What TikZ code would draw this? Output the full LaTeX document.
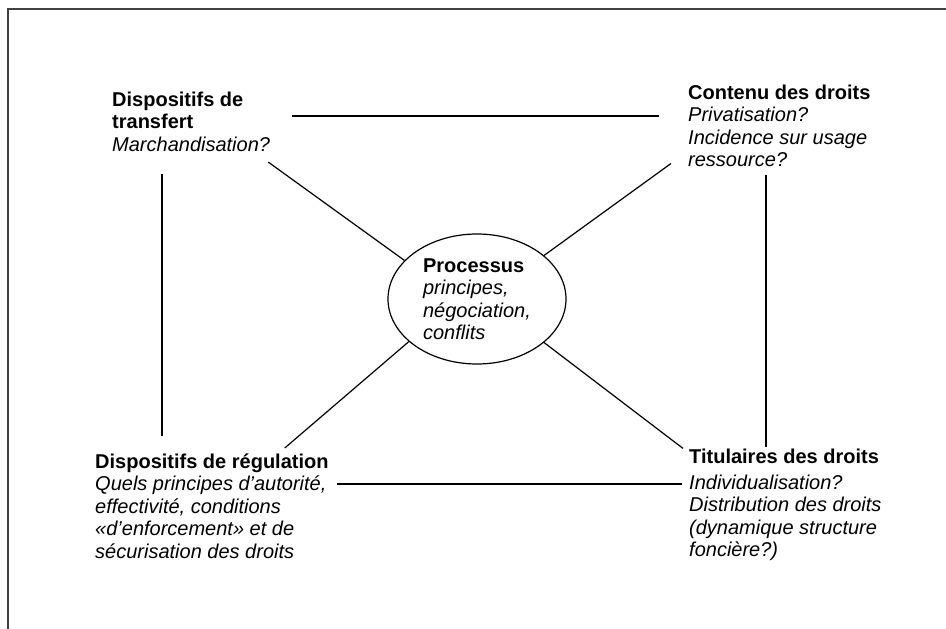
\documentclass[tikz,border=0pt]{standalone}
\usepackage{fontspec}
\setmainfont{Liberation Sans}
\usetikzlibrary{shapes.geometric}

\begin{document}
\begin{tikzpicture}[x=1pt,y=-1pt,
		bloc/.style={anchor=north west,inner sep=0pt,align=left,font=\fontsize{20}{22.5}\selectfont},
		lien/.style={line width=1.2pt},
		trait/.style={line width=1.6pt}]
				\useasboundingbox (0,0) rectangle (946,629);
				\draw[line width=1.3pt,black!75] (8,629) -- (8,9) -- (946,9);
				
				\node(trans) at (112,91.4)[bloc]{\textbf{Dispositifs de}\\\textbf{transfert}\\\textit{Marchandisation?}};
				\node(cont) at (688,84.4)[bloc]{\textbf{Contenu des droits}\\\textit{Privatisation?}\\\textit{Incidence sur usage}\\\textit{ressource?}};
				\node(regu) at (95,453.4)[bloc]{\textbf{Dispositifs de régulation}\\\textit{Quels principes d’autorité,}\\\textit{effectivité, conditions}\\\textit{«d’enforcement» et de}\\\textit{sécurisation des droits}};
				\node(titu) at (689,448.4)[bloc]{\textbf{Titulaires des droits}\\[3.5pt]\textit{Individualisation?}\\\textit{Distribution des droits}\\\textit{(dynamique structure}\\\textit{foncière?)}};
				\node(proc) at (477,299)[ellipse,draw,line width=1.2pt,minimum width=178pt,minimum height=130pt,inner sep=0pt,align=left,font=\fontsize{20}{22.5}\selectfont]{\textbf{Processus}\\\textit{principes,}\\\textit{négociation,}\\\textit{conflits}};
				
				\draw[trait] ([xshift=22pt,yshift=-31.6pt]trans.east |- cont.north west) to ([xshift=-29pt,yshift=-31.6pt]cont.north west);
				\draw[trait] ([xshift=8pt,yshift=-35.6pt]regu.east |- titu.north west) to ([xshift=-7pt,yshift=-35.6pt]titu.north west);
				\draw[trait] ([xshift=50pt,yshift=-22.6pt]trans.south west) to ([xshift=50pt,yshift=17.4pt]trans.south west |- regu.north);
				\draw[trait] ([xshift=78pt,yshift=-8.5pt]cont.south west) to ([xshift=78pt,yshift=1.5pt]cont.south west |- titu.north);
				\draw[lien] ([xshift=-2pt,yshift=-10.6pt]trans.south east) to (proc.152);
				\draw[lien] ([xshift=-17pt,yshift=3.5pt]cont.south west) to (proc.33);
				\draw[lien] ([xshift=-44pt,yshift=5.4pt]regu.north east) to (proc.212);
				\draw[lien] ([xshift=-6pt]titu.north west) to (proc.327);
				
\end{tikzpicture}
\end{document}
